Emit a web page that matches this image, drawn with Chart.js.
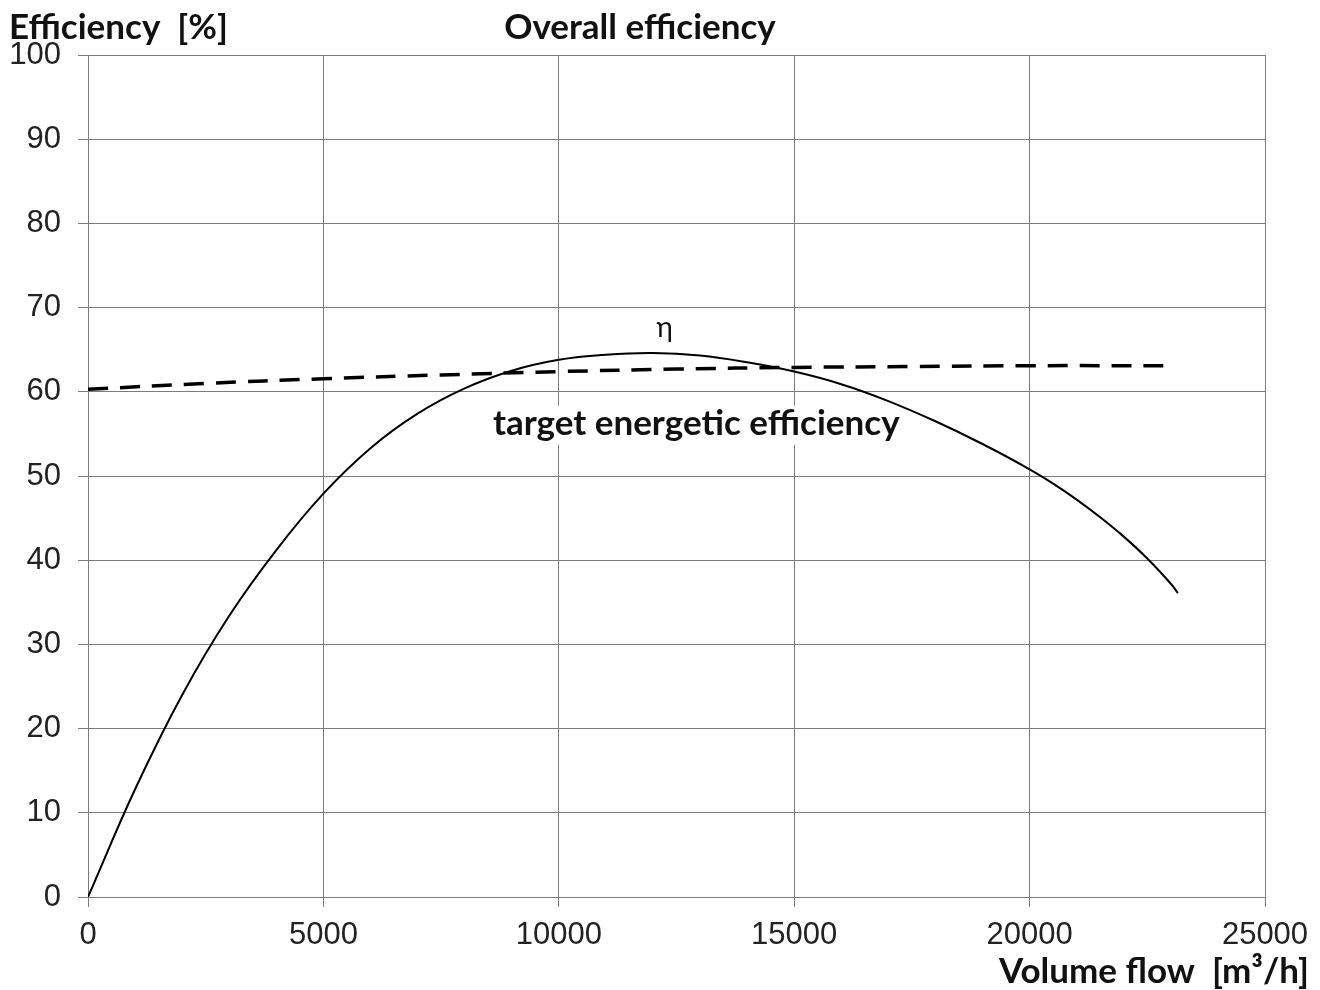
<!DOCTYPE html>
<html>
<head>
<meta charset="utf-8">
<script src="https://cdn.jsdelivr.net/npm/chart.js@4/dist/chart.umd.min.js"></script>
<style>
  body { margin: 0; background: #fff; }
  #chart { display: block; }
</style>
</head>
<body>
<canvas id="chart" width="1320" height="990"></canvas>
<script>
// values
const flowX = [0, 1000, 2000, 3000, 4000, 5000, 6000, 7000, 8000, 9000, 10000, 11000,
  12000, 13000, 14000, 15000, 16000, 17000, 18000, 19000, 20000, 20500, 21000, 21500,
  22000, 22500, 23000, 23150];
const etaValues = [0, 12.8, 24.0, 33.4, 41.2, 47.9, 53.3, 57.4, 60.4, 62.5, 63.8, 64.4,
  64.6, 64.3, 63.5, 62.4, 60.9, 58.9, 56.5, 53.8, 50.8, 49.1, 47.2, 45.1,
  42.8, 40.2, 37.2, 36.1];

const targetX = [0, 2500, 5000, 7500, 10000, 12500, 15000, 17500, 20000, 23100];
const targetValues = [60.3, 61.0, 61.55, 62.0, 62.4, 62.7, 62.9, 63.0, 63.1, 63.1];

const xTicks = [0, 5000, 10000, 15000, 20000, 25000];
const yTicks = [0, 10, 20, 30, 40, 50, 60, 70, 80, 90, 100];

const gridColor = "#7c7c7c";
const tickFont = { family: "'Liberation Sans', Arial, sans-serif", size: 31 };
const boldFont = "bold 35px Lato, sans-serif";

function toPoints(xs, ys) {
  return xs.map(function (x, i) { return { x: x, y: ys[i] }; });
}

// texts on the canvas: axis names, title, curve labels
const labelsPlugin = {
  id: "labels",
  beforeDatasetsDraw: function (chart) {
    // target label sits on a white box over the grid, under the curves
    const ctx = chart.ctx;
    const tx = chart.scales.x.getPixelForValue(8600);
    const ty = chart.scales.y.getPixelForValue(54.9);
    ctx.save();
    ctx.font = boldFont;
    ctx.textAlign = "left";
    ctx.textBaseline = "alphabetic";
    const w = ctx.measureText("target energetic efficiency").width;
    ctx.fillStyle = "#fff";
    ctx.fillRect(tx - 3, ty - 29, w + 6, 39);
    ctx.fillStyle = "#111";
    ctx.fillText("target energetic efficiency", tx, ty);
    ctx.restore();
  },
  afterDatasetsDraw: function (chart) {
    const ctx = chart.ctx;
    const xs = chart.scales.x;
    const ys = chart.scales.y;
    ctx.save();
    ctx.fillStyle = "#111";
    ctx.textBaseline = "alphabetic";

    ctx.font = boldFont;
    ctx.textAlign = "left";
    ctx.fillText("Efficiency  [%]", 9, 39);

    ctx.textAlign = "center";
    ctx.fillText("Overall efficiency", 640, 39);

    ctx.textAlign = "right";
    ctx.fillText("Volume flow  [m\u00b3/h]", 1309, 983);

    ctx.font = "28px Lato, sans-serif";
    ctx.textAlign = "center";
    ctx.fillText("\u03b7", xs.getPixelForValue(12250), ys.getPixelForValue(66.5));
    ctx.restore();
  }
};

new Chart(document.getElementById("chart"), {
  type: "scatter",
  data: {
    datasets: [
      {
        label: "η",
        data: toPoints(flowX, etaValues),
        showLine: true,
        borderColor: "#000",
        borderWidth: 2,
        pointRadius: 0,
        tension: 0.4
      },
      {
        label: "target energetic efficiency",
        data: toPoints(targetX, targetValues),
        showLine: true,
        borderColor: "#000",
        borderWidth: 3.5,
        borderDash: [20, 12],
        pointRadius: 0,
        tension: 0.4
      }
    ]
  },
  options: {
    responsive: false,
    animation: false,
    layout: { padding: { top: 55, right: 55, left: 0, bottom: 0 } },
    plugins: {
      legend: { display: false },
      tooltip: { enabled: false }
    },
    scales: {
      x: {
        type: "linear",
        min: 0,
        max: 25000,
        afterFit: function (scale) { scale.height = 93; },
        afterBuildTicks: function (scale) {
          scale.ticks = xTicks.map(function (v) { return { value: v }; });
        },
        ticks: {
          color: "#222",
          font: tickFont,
          padding: 10,
          maxRotation: 0,
          callback: function (v) { return String(v); }
        },
        grid: { color: gridColor, lineWidth: 1, tickLength: 10, tickColor: gridColor },
        border: { color: gridColor, width: 1 }
      },
      y: {
        min: 0,
        max: 100,
        afterFit: function (scale) { scale.width = 88; },
        afterBuildTicks: function (scale) {
          scale.ticks = yTicks.map(function (v) { return { value: v }; });
        },
        ticks: {
          color: "#222",
          font: tickFont,
          padding: 17,
          callback: function (v) { return String(v); }
        },
        grid: { color: gridColor, lineWidth: 1, tickLength: 10, tickColor: gridColor },
        border: { color: gridColor, width: 1 }
      }
    }
  },
  plugins: [labelsPlugin]
});
</script>
</body>
</html>
